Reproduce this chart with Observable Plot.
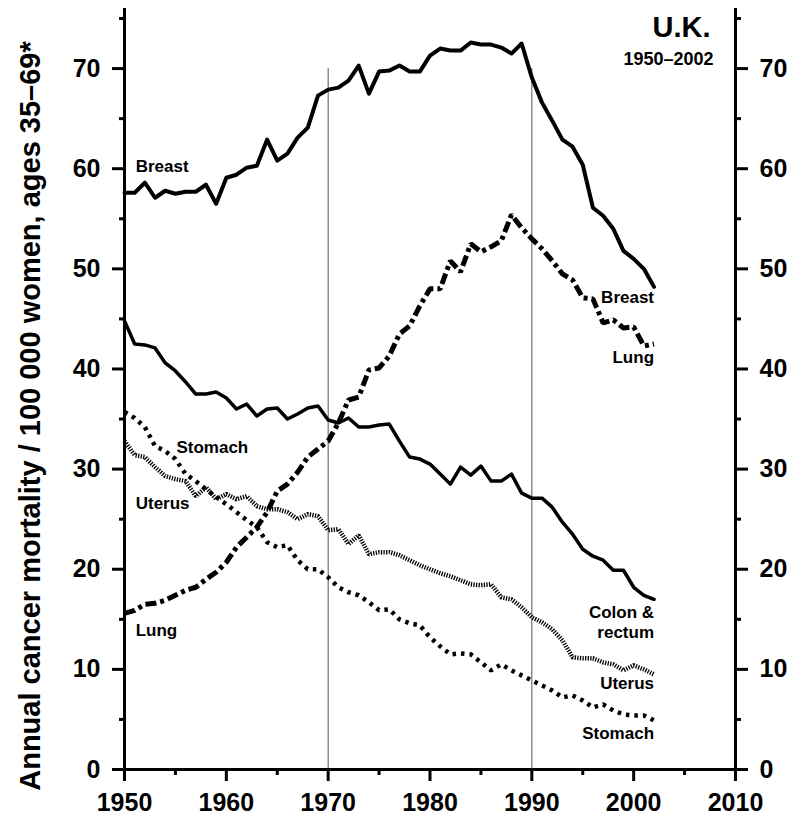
<!DOCTYPE html>
<html>
<head>
<meta charset="utf-8">
<script src="https://cdn.jsdelivr.net/npm/d3@7"></script>
<script src="https://cdn.jsdelivr.net/npm/@observablehq/plot@0.6"></script>
<style>
  html, body { margin: 0; padding: 0; background: #fff; }
  #chart svg { display: block; }
</style>
</head>
<body>
<div id="chart"></div>
<script>
const years = d3.range(1950, 2003);

const breast = [57.6, 57.6, 58.6, 57.1, 57.8, 57.5, 57.7, 57.7, 58.4, 56.5,
  59.1, 59.4, 60.1, 60.3, 62.9, 60.8, 61.5, 63.1, 64.1, 67.3,
  67.9, 68.1, 68.8, 70.3, 67.5, 69.7, 69.8, 70.3, 69.7, 69.7,
  71.3, 72.0, 71.8, 71.8, 72.6, 72.4, 72.4, 72.1, 71.5, 72.5,
  69.1, 66.6, 64.8, 62.9, 62.2, 60.4, 56.1, 55.3, 54.0, 51.8,
  51.0, 50.0, 48.2];

const lung = [15.6, 15.9, 16.5, 16.6, 16.9, 17.4, 17.9, 18.2, 19.0, 19.7,
  20.7, 22.2, 23.2, 24.2, 25.7, 27.8, 28.5, 29.7, 31.2, 32.0,
  32.8, 34.6, 36.9, 37.2, 39.9, 40.1, 41.3, 43.5, 44.3, 46.3,
  48.0, 48.0, 50.8, 49.7, 52.5, 51.7, 52.2, 52.8, 55.4, 54.1,
  53.0, 52.0, 50.8, 49.5, 48.9, 47.1, 47.0, 44.6, 44.9, 44.1,
  44.2, 42.3, 42.5];

const colon = [44.8, 42.5, 42.4, 42.1, 40.6, 39.8, 38.7, 37.5, 37.5, 37.7,
  37.1, 36.0, 36.5, 35.3, 36.0, 36.1, 35.0, 35.5, 36.1, 36.3,
  34.9, 34.6, 35.1, 34.2, 34.2, 34.4, 34.5, 32.8, 31.2, 31.0,
  30.5, 29.5, 28.5, 30.2, 29.4, 30.3, 28.8, 28.8, 29.5, 27.6,
  27.1, 27.1, 26.2, 24.7, 23.5, 22.0, 21.3, 20.9, 19.9, 19.9,
  18.2, 17.4, 17.0];

const stomach = [35.7, 35.1, 34.2, 32.3, 31.8, 31.0, 29.5, 28.8, 28.0, 27.2,
  26.5, 25.7, 24.9, 24.2, 22.7, 22.2, 22.4, 20.9, 20.0, 20.0,
  19.2, 18.2, 17.7, 17.4, 16.7, 15.9, 16.0, 15.0, 14.6, 14.4,
  13.2, 12.3, 11.5, 11.6, 11.5, 10.7, 9.9, 10.5, 9.9, 9.4,
  8.9, 8.4, 7.9, 7.2, 7.4, 6.9, 6.2, 6.5, 5.9, 5.5,
  5.4, 5.4, 4.9];

const uterus = [32.8, 31.4, 31.2, 30.2, 29.3, 29.0, 28.8, 27.3, 28.2, 27.0,
  27.5, 27.0, 27.3, 26.3, 26.0, 26.0, 25.7, 25.0, 25.5, 25.3,
  23.9, 24.0, 22.5, 23.4, 21.5, 21.7, 21.7, 21.4, 20.9, 20.4,
  20.0, 19.6, 19.3, 18.9, 18.5, 18.4, 18.5, 17.2, 17.0, 16.2,
  15.2, 14.7, 14.0, 12.9, 11.2, 11.1, 11.1, 10.7, 10.5, 9.9,
  10.4, 10.0, 9.5];

const xMajorTicks = [1950, 1960, 1970, 1980, 1990, 2000, 2010];
const xMinorTicks = [1955, 1965, 1975, 1985, 1995, 2005];
const yMajorTicks = [0, 10, 20, 30, 40, 50, 60, 70];
const yMinorTicks = [5, 15, 25, 35, 45, 55, 65, 75];
const refYears = [1970, 1990];

const leftLabels = [
  {t: "Breast", x: 1951.1, y: 60.2},
  {t: "Stomach", x: 1955.1, y: 32.2},
  {t: "Uterus", x: 1951.1, y: 26.6},
  {t: "Lung", x: 1951.1, y: 13.9}
];
const rightLabels = [
  {t: "Breast", x: 2002.0, y: 47.1},
  {t: "Lung", x: 2002.0, y: 41.1},
  {t: "Colon &", x: 2002.0, y: 15.7},
  {t: "rectum", x: 2002.0, y: 13.7},
  {t: "Uterus", x: 2002.0, y: 8.6},
  {t: "Stomach", x: 2002.0, y: 3.6}
];

const yLabel = "Annual cancer mortality / 100 000 women, ages 35–69*";
const title = "U.K.";
const subtitle = "1950–2002";

const toRows = (vals) => years.map((yr, i) => ({year: yr, value: vals[i]}));

const lineBase = {x: "year", y: "value", stroke: "black", fill: "none"};
const dashed = {strokeLinecap: "butt", strokeLinejoin: "miter"};

const chart = Plot.plot({
  width: 796,
  height: 825,
  marginLeft: 124,
  marginRight: 61,
  marginTop: 8,
  marginBottom: 56,
  style: {fontFamily: "'Liberation Sans', Arial, Helvetica, sans-serif", fontWeight: "bold", background: "white", color: "black"},
  x: {domain: [1950, 2010]},
  y: {domain: [0, 76]},
  marks: [
    Plot.ruleX(refYears, {y1: 0, y2: 70, stroke: "#555", strokeWidth: 1}),
    Plot.line(toRows(uterus), {...lineBase, ...dashed, strokeWidth: 4.5, strokeDasharray: "1.3,1.3"}),
    Plot.line(toRows(stomach), {...lineBase, ...dashed, strokeWidth: 4.5, strokeDasharray: "3.5,5"}),
    Plot.line(toRows(lung), {...lineBase, ...dashed, strokeWidth: 5, strokeDasharray: "11,4,4,4"}),
    Plot.line(toRows(colon), {...lineBase, strokeWidth: 3.5, strokeLinejoin: "round"}),
    Plot.line(toRows(breast), {...lineBase, strokeWidth: 4, strokeLinejoin: "round"}),
    Plot.text(leftLabels, {x: "x", y: "y", text: "t", textAnchor: "start", fontSize: 17, fontWeight: "bold"}),
    Plot.text(rightLabels, {x: "x", y: "y", text: "t", textAnchor: "end", fontSize: 17, fontWeight: "bold"}),
    Plot.ruleX([1950, 2010], {strokeWidth: 3}),
    Plot.ruleY([0], {strokeWidth: 3}),
    Plot.axisX(xMajorTicks, {anchor: "bottom", tickSize: 12, tickPadding: 12, strokeWidth: 3, fontSize: 25, fontWeight: "bold", tickFormat: "d", label: null}),
    Plot.axisX(xMinorTicks, {anchor: "bottom", tickSize: 6, strokeWidth: 3, tickFormat: () => "", label: null}),
    Plot.axisY(yMajorTicks, {anchor: "left", tickSize: 12, tickPadding: 12, strokeWidth: 3, fontSize: 25, fontWeight: "bold", label: null}),
    Plot.axisY(yMinorTicks, {anchor: "left", tickSize: 5, strokeWidth: 3, tickFormat: () => "", label: null}),
    Plot.axisY(yMajorTicks, {anchor: "right", tickSize: 12, tickPadding: 12, strokeWidth: 3, fontSize: 25, fontWeight: "bold", label: null}),
    Plot.axisY(yMinorTicks, {anchor: "right", tickSize: 5, strokeWidth: 3, tickFormat: () => "", label: null}),
    Plot.text([yLabel], {frameAnchor: "left", rotate: -90, dx: -94, dy: 27, textAnchor: "middle", fontSize: 29, fontWeight: "bold"}),
    Plot.text([title], {frameAnchor: "top-right", lineAnchor: "bottom", dx: -25, dy: 28, fontSize: 29, fontWeight: "bold", textAnchor: "end"}),
    Plot.text([subtitle], {frameAnchor: "top-right", lineAnchor: "bottom", dx: -22, dy: 56, fontSize: 18, fontWeight: "bold", textAnchor: "end"})
  ]
});

document.getElementById("chart").appendChild(chart);
</script>
</body>
</html>
